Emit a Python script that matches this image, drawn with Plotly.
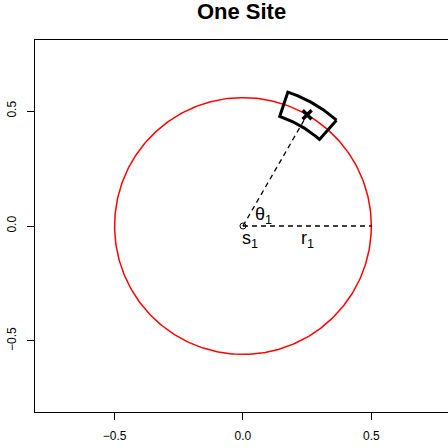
import numpy as np
import plotly.graph_objects as go

# ---- data ----
site_x = [0.0]
site_y = [0.0]
radius = 0.5            # r1
theta_deg = 60.0        # theta1
d_r = 0.05              # half radial width of the sector
d_theta = 0.2           # half angular width of the sector (rad)
x_ticks = [-0.5, 0.0, 0.5]
x_tick_labels = ["\u22120.5", "0.0", "0.5"]
y_ticks = [-0.5, 0.0, 0.5]
y_tick_labels = ["\u22120.5", "0.0", "0.5"]
title_text = "One Site"

# ---- layout geometry ----
W, H = 448, 448
ml, mr, mt, mb = 35, 0, 40, 36
xr = [-0.810, 0.7986]
yr = [-0.809, 0.809]
px_x = (W - ml - mr) / (xr[1] - xr[0])
px_y = (H - mt - mb) / (yr[1] - yr[0])
k = px_x / px_y   # circles are round in pixels (radius in x units)

th = np.radians(theta_deg)
cx, cy = site_x[0], site_y[0]

t = np.linspace(0, 2 * np.pi, 361)
circ_x = cx + radius * np.cos(t)
circ_y = cy + radius * k * np.sin(t)

pt_x = cx + radius * np.cos(th)
pt_y = cy + radius * k * np.sin(th)

a = np.linspace(th - d_theta, th + d_theta, 40)
r_out, r_in = radius + d_r, radius - d_r
sec_x = np.concatenate([r_out * np.cos(a), r_in * np.cos(a[::-1]), [r_out * np.cos(a[0])]]) + cx
sec_y = np.concatenate([r_out * k * np.sin(a), r_in * k * np.sin(a[::-1]), [r_out * k * np.sin(a[0])]]) + cy

fig = go.Figure()
fig.add_trace(go.Scatter(x=circ_x, y=circ_y, mode="lines",
                         line=dict(color="#ff0000", width=1.5), hoverinfo="skip"))
fig.add_trace(go.Scatter(x=[cx, pt_x], y=[cy, pt_y], mode="lines",
                         line=dict(color="black", width=1.3, dash="5px,4px")))
fig.add_trace(go.Scatter(x=[cx, cx + radius], y=[cy, cy], mode="lines",
                         line=dict(color="black", width=1.3, dash="5px,4px")))
fig.add_trace(go.Scatter(x=sec_x, y=sec_y, mode="lines",
                         line=dict(color="black", width=3)))
fig.add_trace(go.Scatter(x=[pt_x], y=[pt_y], mode="markers",
                         marker=dict(symbol="x-thin", size=9, line=dict(color="black", width=3.5))))
fig.add_trace(go.Scatter(x=site_x, y=site_y, mode="markers",
                         marker=dict(symbol="circle-open", size=6, color="black", line=dict(width=1))))

lab_font = dict(family="Liberation Sans, Arial", size=18, color="black")
fig.add_annotation(x=0.081, y=0.045, text="\u03b8<sub>1</sub>", showarrow=False, font=lab_font)
fig.add_annotation(x=0.028, y=-0.058, text="s<sub>1</sub>", showarrow=False, font=lab_font)
fig.add_annotation(x=0.252, y=-0.058, text="r<sub>1</sub>", showarrow=False, font=lab_font)

fig.update_layout(
    width=W, height=H,
    margin=dict(l=ml, r=mr, t=mt, b=mb),
    paper_bgcolor="white", plot_bgcolor="white",
    showlegend=False,
    font=dict(family="Liberation Sans, Arial", size=12, color="black"),
    title=dict(text="<b>" + title_text + "</b>", x=0.5, xref="paper",
               y=1 - 11 / H, yref="container", yanchor="middle", xanchor="center",
               font=dict(size=22, color="black")),
    xaxis=dict(range=xr, tickvals=x_ticks, ticktext=x_tick_labels,
               ticks="outside", ticklen=7, tickcolor="black", showgrid=False,
               zeroline=False, showline=True, mirror=True, linecolor="black",
               linewidth=1, ticklabelstandoff=6),
    yaxis=dict(range=yr, tickvals=y_ticks, ticktext=y_tick_labels, tickangle=-90,
               ticks="outside", ticklen=7, tickcolor="black", showgrid=False,
               zeroline=False, showline=True, mirror=False, linecolor="black",
               linewidth=1, ticklabelstandoff=6),
)

fig.write_html("out.html", config={"displayModeBar": False},
               post_script="document.body.style.margin='0';document.body.style.overflow='hidden';")
